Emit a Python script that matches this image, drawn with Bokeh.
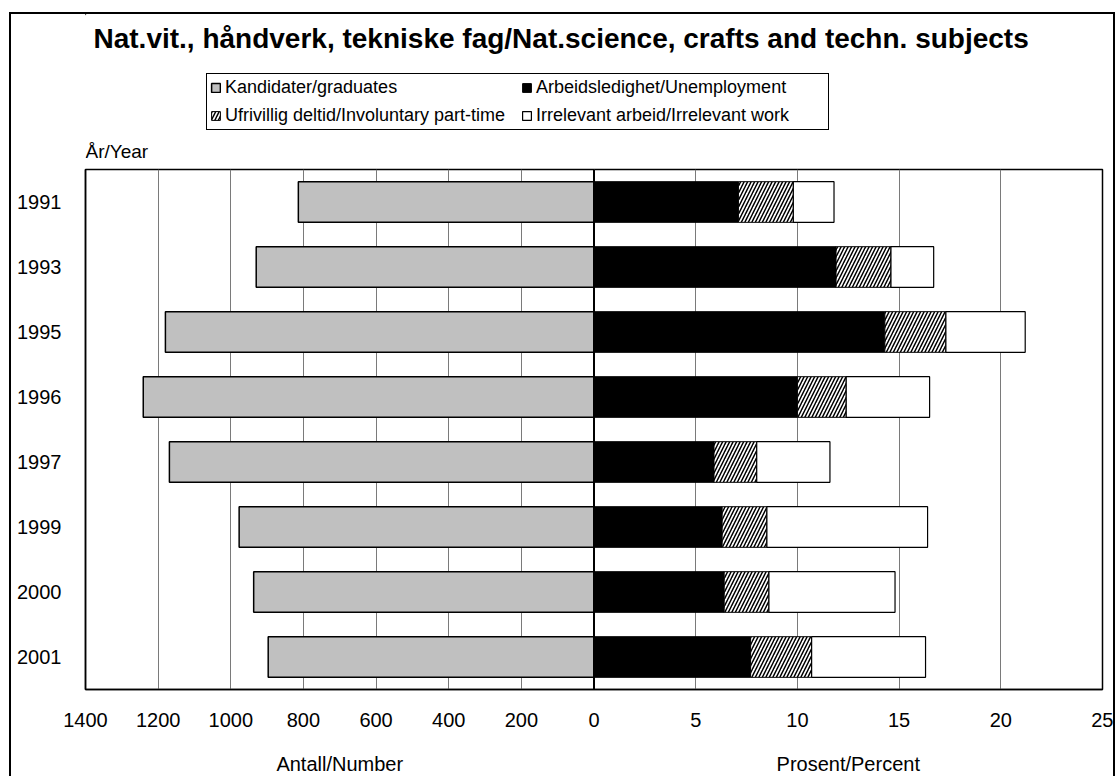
from bokeh.plotting import figure
from bokeh.layouts import column
from bokeh.models import (ColumnDataSource, Range1d, FixedTicker, Legend, LegendItem, Span,
                          Label)
from bokeh.transform import stack
from bokeh.embed import file_html
from bokeh.resources import INLINE

title_text = "Nat.vit., håndverk, tekniske fag/Nat.science, crafts and techn. subjects"
years = ["1991", "1993", "1995", "1996", "1997", "1999", "2000", "2001"]
graduates = [814, 930, 1180, 1241, 1169, 977, 937, 897]
unemployment = [7.1, 11.9, 14.3, 10.0, 5.9, 6.3, 6.4, 7.7]
involuntary = [2.7, 2.7, 3.0, 2.4, 2.1, 2.2, 2.2, 3.0]
irrelevant = [2.0, 2.1, 3.9, 4.1, 3.6, 7.9, 6.2, 5.6]
count_ticks = [1400, 1200, 1000, 800, 600, 400, 200]
pct_ticks = [5, 10, 15, 20, 25]
COUNT_MAX = 1400
PCT_MAX = 25
series_names = ["Kandidater/graduates", "Arbeidsledighet/Unemployment",
                "Ufrivillig deltid/Involuntary part-time", "Irrelevant arbeid/Irrelevant work"]
year_title = "År/Year"
count_title = "Antall/Number"
pct_title = "Prosent/Percent"

FONT = "Liberation Sans"
N = len(years)
ypos = [N - 0.5 - i for i in range(N)]     # first year at the top
src = ColumnDataSource(dict(y=ypos, year=years, grad=graduates, unemp=unemployment,
                            invol=involuntary, irrel=irrelevant))

# page geometry (pixels); the bordered box starts at page (9, 12), canvases at (11, 14)
OX, OY = 11, 14
W = 1102
FL, FR, FT, FB = 85, 1102, 169, 689    # plot frame on the page
HEAD_END, MAIN_END, PAGE_END = 165, 740, 776
BORDERS = dict(min_border_left=FL - OX, min_border_right=OX + W - FR)

BAR_STYLES = [dict(fill_color="#c0c0c0", line_color="black", line_width=1.5),
              dict(fill_color="black", line_color="black", line_width=1),
              dict(fill_color="white", line_color="black", line_width=1, hatch_pattern="/",
                   hatch_color="black", hatch_scale=7, hatch_weight=1.5),
              dict(fill_color="white", line_color="black", line_width=1.2)]

def blank(fig):
    fig.axis.visible = False
    fig.grid.visible = False
    fig.outline_line_color = None

# ---------------- header: title, legend, year label ----------------
head = figure(width=W, height=HEAD_END - OY, output_backend="svg", toolbar_location=None,
              x_range=Range1d(FL, FR), y_range=Range1d(HEAD_END, OY),
              min_border_top=0, min_border_bottom=0, **BORDERS)
blank(head)

# legend swatches: one off-view sample per series, styled like the bars
dummy = [head.hbar(y=[-1e6], left=[0], right=[1], height=1, **st) for st in BAR_STYLES]
legend = Legend(items=[LegendItem(label=n, renderers=[r]) for n, r in zip(series_names, dummy)],
                location=(206 - FL, HEAD_END - 130), orientation="horizontal", ncols=2,
                margin=0, padding=3, spacing=7, label_height=20, label_width=289,
                glyph_height=11, glyph_width=11, label_standoff=4, border_line_color="black",
                border_line_width=1.5, border_line_alpha=1, background_fill_color="white",
                background_fill_alpha=1, label_text_font=FONT, label_text_font_size="18px",
                label_text_color="black")
head.add_layout(legend)
head.add_layout(Label(x=93, y=38, text=title_text, text_align="left", text_baseline="middle",
                      text_font=FONT, text_font_size="28px", text_font_style="bold",
                      text_color="black"))
head.add_layout(Label(x=FL, y=151, text=year_title, text_align="left", text_baseline="middle",
                      text_font=FONT, text_font_size="19px", text_color="black"))

# ---------------- main chart ----------------
p = figure(width=W, height=MAIN_END - HEAD_END, output_backend="svg", toolbar_location=None,
           y_range=Range1d(0, N), x_range=Range1d(COUNT_MAX, -COUNT_MAX),
           min_border_top=FT - HEAD_END, min_border_bottom=MAIN_END - FB, **BORDERS)
p.extra_x_ranges = {"pct": Range1d(-PCT_MAX, PCT_MAX)}
p.outline_line_color = "black"
p.outline_line_width = 1.5
p.background_fill_color = "white"

scale = COUNT_MAX // PCT_MAX
pct_pos = [-t * scale for t in pct_ticks]
all_ticks = count_ticks + [0] + pct_pos
overrides = {c: str(c) for c in count_ticks}
overrides.update({pos: str(t) for pos, t in zip(pct_pos, pct_ticks)})
overrides[0] = "0"

p.xgrid.ticker = FixedTicker(ticks=all_ticks)
p.xgrid.grid_line_color = "#7a7a7a"
p.xgrid.grid_line_width = 1
p.ygrid.visible = False

def style_axis(ax, size, standoff):
    ax.major_tick_out = 0
    ax.major_tick_in = 0
    ax.minor_tick_out = 0
    ax.minor_tick_in = 0
    ax.major_label_standoff = standoff
    ax.major_label_text_font = FONT
    ax.major_label_text_font_size = size
    ax.major_label_text_color = "black"
    ax.axis_line_color = "black"
    ax.axis_line_width = 1.5

xa = p.xaxis[0]
xa.ticker = FixedTicker(ticks=all_ticks)
xa.major_label_overrides = overrides
style_axis(xa, "20px", 23)

ya = p.yaxis[0]
ya.ticker = FixedTicker(ticks=ypos)
ya.major_label_overrides = {y: yr for y, yr in zip(ypos, years)}
style_axis(ya, "20px", 24)

BH = 0.625
p.hbar(y="y", left=0, right="grad", height=BH, source=src, **BAR_STYLES[0])
p.hbar(y="y", left=0, right="unemp", height=BH, source=src, x_range_name="pct",
       **BAR_STYLES[1])
p.hbar(y="y", left=stack("unemp"), right=stack("unemp", "invol"), height=BH,
       source=src, x_range_name="pct", **BAR_STYLES[2])
p.hbar(y="y", left=stack("unemp", "invol"), right=stack("unemp", "invol", "irrel"),
       height=BH, source=src, x_range_name="pct", **BAR_STYLES[3])

p.add_layout(Span(location=0, dimension="height", line_color="black", line_width=2))

# ---------------- footer: the two half-axis titles ----------------
foot = figure(width=W, height=PAGE_END - MAIN_END, output_backend="svg", toolbar_location=None,
              x_range=Range1d(FL, FR), y_range=Range1d(PAGE_END, MAIN_END),
              min_border_top=0, min_border_bottom=0, **BORDERS)
blank(foot)
for text, cx in [(count_title, (FL + (FL + FR) / 2) / 2), (pct_title, ((FL + FR) / 2 + FR) / 2)]:
    foot.add_layout(Label(x=cx, y=763, text=text, text_align="center", text_baseline="middle",
                          text_font=FONT, text_font_size="20px", text_color="black"))

page = column(head, p, foot,
              styles={"margin-left": f"{OX - 2}px", "margin-top": f"{OY - 2}px",
                      "border-left": "2px solid black", "border-top": "2px solid black",
                      "border-right": "2px solid black"})

open("out.html", "w").write(file_html(page, INLINE))
